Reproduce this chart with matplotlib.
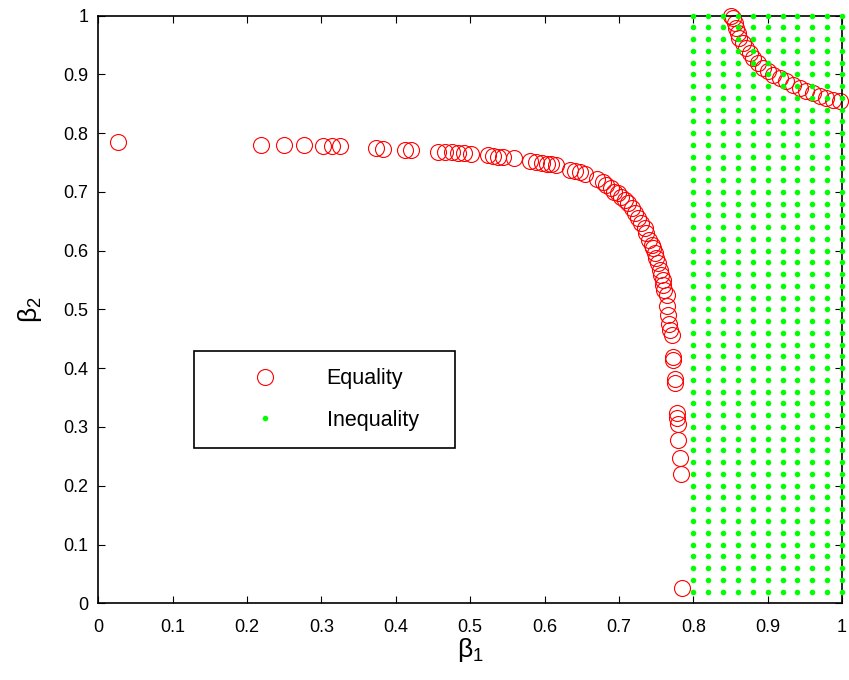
import matplotlib
matplotlib.use("Agg")
import matplotlib.pyplot as plt
import numpy as np

# equality curve, lower branch (beta1, beta2)
eq_b1_low = [0.026, 0.219, 0.249, 0.277, 0.302, 0.314, 0.325, 0.374, 0.383, 0.412,
             0.420, 0.457, 0.466, 0.475, 0.483, 0.492, 0.501, 0.524, 0.531, 0.538,
             0.544, 0.559, 0.580, 0.589, 0.596, 0.603, 0.609, 0.616, 0.634, 0.641,
             0.647, 0.654, 0.670, 0.679, 0.683, 0.690, 0.694, 0.699, 0.703, 0.708,
             0.712, 0.717, 0.721, 0.726, 0.730, 0.735, 0.737, 0.741, 0.744, 0.746,
             0.748, 0.750, 0.753, 0.755, 0.757, 0.759, 0.759, 0.761, 0.764, 0.765,
             0.766, 0.768, 0.769, 0.771, 0.773, 0.773, 0.775, 0.775, 0.778, 0.778,
             0.779, 0.780, 0.782, 0.783, 0.785]
eq_b2_low = [0.784, 0.780, 0.780, 0.779, 0.778, 0.778, 0.778, 0.774, 0.773, 0.772,
             0.772, 0.768, 0.767, 0.767, 0.766, 0.766, 0.765, 0.762, 0.761, 0.760,
             0.759, 0.757, 0.752, 0.750, 0.749, 0.748, 0.747, 0.745, 0.738, 0.736,
             0.734, 0.731, 0.722, 0.717, 0.712, 0.706, 0.700, 0.698, 0.692, 0.686,
             0.681, 0.672, 0.664, 0.655, 0.647, 0.638, 0.630, 0.618, 0.610, 0.604,
             0.596, 0.587, 0.579, 0.567, 0.559, 0.550, 0.542, 0.533, 0.525, 0.505,
             0.491, 0.476, 0.465, 0.457, 0.419, 0.414, 0.381, 0.374, 0.323, 0.315,
             0.305, 0.277, 0.248, 0.220, 0.026]

# equality curve, upper branch
eq_b1_up = [0.851, 0.853, 0.856, 0.858, 0.860, 0.862, 0.867, 0.871, 0.876, 0.880,
            0.887, 0.894, 0.901, 0.907, 0.916, 0.925, 0.934, 0.943, 0.952, 0.961,
            0.970, 0.979, 0.988, 0.997]
eq_b2_up = [1.000, 0.995, 0.987, 0.978, 0.970, 0.961, 0.953, 0.944, 0.936, 0.927,
            0.919, 0.910, 0.905, 0.899, 0.893, 0.888, 0.882, 0.876, 0.872, 0.868,
            0.863, 0.859, 0.856, 0.854]

# inequality grid
ineq_b1 = [0.80, 0.82, 0.84, 0.86, 0.88, 0.90, 0.92, 0.94, 0.96, 0.98, 1.00]
ineq_b2 = [0.02, 0.04, 0.06, 0.08, 0.10, 0.12, 0.14, 0.16, 0.18, 0.20,
           0.22, 0.24, 0.26, 0.28, 0.30, 0.32, 0.34, 0.36, 0.38, 0.40,
           0.42, 0.44, 0.46, 0.48, 0.50, 0.52, 0.54, 0.56, 0.58, 0.60,
           0.62, 0.64, 0.66, 0.68, 0.70, 0.72, 0.74, 0.76, 0.78, 0.80,
           0.82, 0.84, 0.86, 0.88, 0.90, 0.92, 0.94, 0.96, 0.98, 1.00]

ticks = [0, 0.1, 0.2, 0.3, 0.4, 0.5, 0.6, 0.7, 0.8, 0.9, 1]
tick_labels = ["0", "0.1", "0.2", "0.3", "0.4", "0.5", "0.6", "0.7", "0.8", "0.9", "1"]

plt.rcParams['font.family'] = ['Liberation Sans', 'DejaVu Sans']
plt.rcParams['mathtext.fontset'] = 'custom'
plt.rcParams['mathtext.rm'] = 'Liberation Sans'

fig = plt.figure(figsize=(8.49, 6.8), dpi=100)
ax = fig.add_axes([0.1158, 0.1128, 0.8760, 0.8644])

eq_x = eq_b1_low + eq_b1_up
eq_y = eq_b2_low + eq_b2_up
ax.plot(eq_x, eq_y, 'o', ls='none', mfc='none', mec=(1, 0, 0), mew=0.8,
        ms=11.5, label='Equality', clip_on=False)

gx, gy = np.meshgrid(ineq_b1, ineq_b2)
ax.plot(gx.ravel(), gy.ravel(), 'o', ls='none', mfc=(0, 1, 0), mec='none',
        ms=4, label='Inequality', clip_on=False, zorder=3)

ax.set_xlim(0, 1)
ax.set_ylim(0, 1)
ax.set_xticks(ticks)
ax.set_xticklabels(tick_labels)
ax.set_yticks(ticks)
ax.set_yticklabels(tick_labels)
ax.tick_params(direction='in', length=5, width=0.8, top=True, right=True,
               labelsize=13)
ax.tick_params(axis='x', pad=11)
ax.tick_params(axis='y', pad=7)
for s in ax.spines.values():
    s.set_linewidth(1.2)

ax.set_xlabel(r'β$_\mathregular{1}$', fontsize=19, labelpad=0)
ax.set_ylabel(r'β$_\mathregular{2}$', fontsize=19, labelpad=14)

leg = ax.legend(loc='lower left', bbox_to_anchor=(0.129, 0.264, 0.35, 0.168),
                mode='expand', fontsize=15.5, fancybox=False, framealpha=1,
                edgecolor='black', borderpad=0.8, labelspacing=0.95,
                handlelength=5.0, handletextpad=0.35, borderaxespad=0)
leg.get_frame().set_linewidth(1.2)

fig.savefig('out.png', dpi=100)
